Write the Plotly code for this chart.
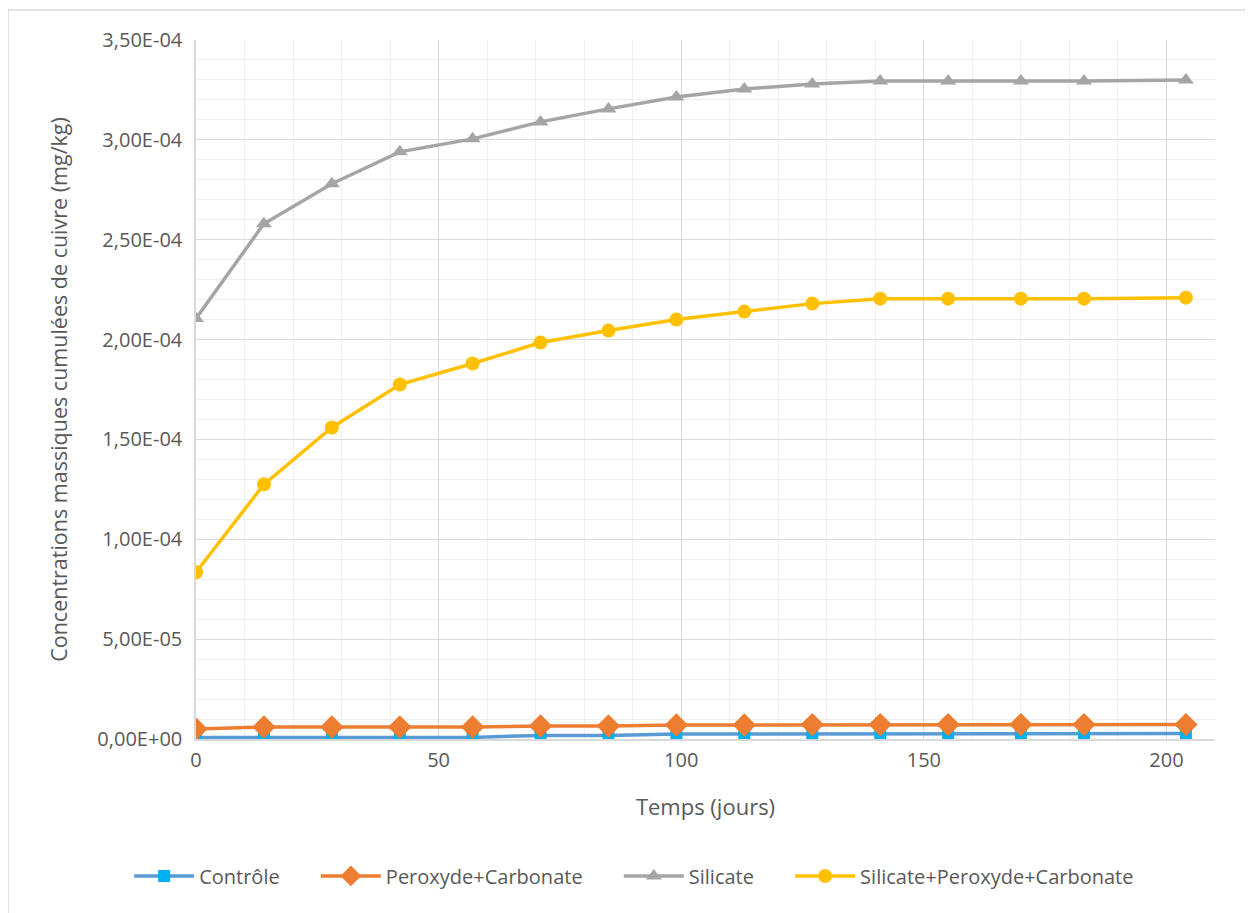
import plotly.graph_objects as go

days = [0, 14, 28, 42, 57, 71, 85, 99, 113, 127, 141, 155, 170, 183, 204]

controle = [0.8e-6, 0.8e-6, 0.8e-6, 0.8e-6, 0.8e-6, 1.8e-6, 1.8e-6, 2.5e-6,
            2.5e-6, 2.7e-6, 2.7e-6, 2.7e-6, 2.7e-6, 2.7e-6, 2.7e-6]
peroxyde_carbonate = [5.0e-6, 6.0e-6, 6.0e-6, 6.0e-6, 6.0e-6, 6.5e-6, 6.5e-6, 7.0e-6,
                      7.0e-6, 7.2e-6, 7.2e-6, 7.2e-6, 7.2e-6, 7.2e-6, 7.2e-6]
silicate = [2.105e-4, 2.58e-4, 2.78e-4, 2.94e-4, 3.005e-4, 3.09e-4, 3.155e-4, 3.215e-4,
            3.255e-4, 3.28e-4, 3.295e-4, 3.295e-4, 3.295e-4, 3.295e-4, 3.30e-4]
silicate_perox_carb = [0.835e-4, 1.275e-4, 1.56e-4, 1.775e-4, 1.88e-4, 1.985e-4, 2.045e-4,
                       2.10e-4, 2.14e-4, 2.18e-4, 2.205e-4, 2.205e-4, 2.205e-4, 2.205e-4, 2.21e-4]

y_tickvals = [0, 0.5e-4, 1.0e-4, 1.5e-4, 2.0e-4, 2.5e-4, 3.0e-4, 3.5e-4]
y_ticktext = ["0,00E+00", "5,00E-05", "1,00E-04", "1,50E-04", "2,00E-04",
              "2,50E-04", "3,00E-04", "3,50E-04"]

txt = "#595959"
font = "Open Sans"
gap = "\u00a0" * 6  # spacing between legend entries

fig = go.Figure()

fig.add_trace(go.Scatter(x=days, y=controle, name="Contrôle" + gap, mode="lines+markers",
                         line=dict(color="#5B9BD5", width=3.5),
                         marker=dict(symbol="square", size=12, color="#00B0F0")))
fig.add_trace(go.Scatter(x=days, y=peroxyde_carbonate, name="Peroxyde+Carbonate" + gap,
                         mode="lines+markers",
                         line=dict(color="#ED7D31", width=3.5),
                         marker=dict(symbol="diamond", size=18, color="#ED7D31")))
fig.add_trace(go.Scatter(x=days, y=silicate, name="Silicate" + gap, mode="lines+markers",
                         line=dict(color="#A5A5A5", width=3.5),
                         marker=dict(symbol="triangle-up", size=14, color="#A5A5A5")))
fig.add_trace(go.Scatter(x=days, y=silicate_perox_carb, name="Silicate+Peroxyde+Carbonate",
                         mode="lines+markers",
                         line=dict(color="#FFC000", width=3.5),
                         marker=dict(symbol="circle", size=14, color="#FFC000")))

# outer chart border
fig.add_shape(type="rect", xref="paper", yref="paper",
              x0=-0.1845, y0=-0.4, x1=1.2, y1=1.043,
              line=dict(color="#D9D9D9", width=1.5), layer="below")

fig.update_layout(
    width=1253, height=913,
    margin=dict(l=188, r=46, t=32, b=182),
    plot_bgcolor="white", paper_bgcolor="white",
    font=dict(family=font, size=20, color=txt),
    legend=dict(orientation="h", x=0.43, xanchor="center", y=-0.168, yanchor="top",
                font=dict(size=20, color=txt), itemwidth=60, tracegroupgap=0),
    xaxis=dict(
        range=[0, 210], tickvals=[0, 50, 100, 150, 200],
        showgrid=True, gridcolor="#D9D9D9", gridwidth=1.2,
        minor=dict(dtick=10, showgrid=True, gridcolor="#EFEFEF", gridwidth=1),
        showline=True, linecolor="#D9D9D9", linewidth=1.5,
        zeroline=False, ticks="", ticklabelstandoff=2,
        title=dict(text="Temps (jours)", font=dict(size=22, color=txt), standoff=28),
        tickfont=dict(size=20, color=txt),
    ),
    yaxis=dict(
        range=[0, 3.5e-4], tickvals=y_tickvals, ticktext=y_ticktext,
        showgrid=True, gridcolor="#D9D9D9", gridwidth=1.2,
        minor=dict(dtick=1e-5, showgrid=True, gridcolor="#EFEFEF", gridwidth=1),
        showline=True, linecolor="#D9D9D9", linewidth=1.5,
        zeroline=False, ticks="", ticklabelstandoff=8,
        title=dict(text="Concentrations massiques cumulées de cuivre (mg/kg)",
                   font=dict(size=21.5, color=txt), standoff=24),
        tickfont=dict(size=20, color=txt),
    ),
)

fig.write_html("out.html")
